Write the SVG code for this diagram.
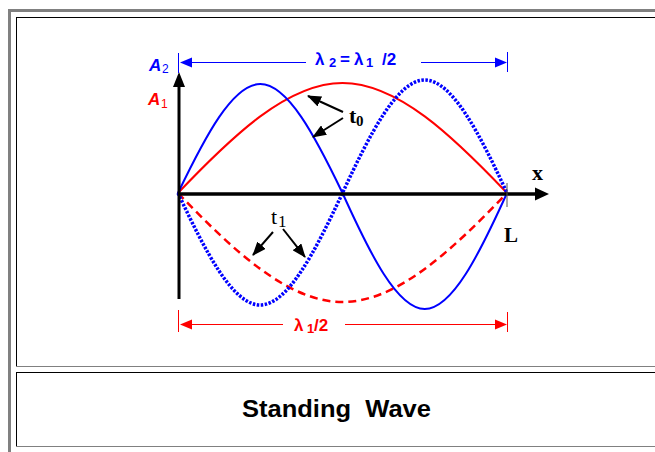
<svg xmlns="http://www.w3.org/2000/svg" width="655" height="452" viewBox="0 0 655 452">
<style>
.sans{font-family:"Liberation Sans",Arial,sans-serif;font-weight:bold}
.serif{font-family:"Liberation Serif","Times New Roman",serif}
.blue{fill:#0000ff}
.red{fill:#ff0000}
.wave{fill:none;stroke-linecap:round;stroke-linejoin:round}
.ptr{stroke:#000;stroke-width:2;fill:none}
</style>
<defs>
<marker id="ah" viewBox="0 0 14 11" refX="13" refY="5.5" markerWidth="14" markerHeight="11" markerUnits="userSpaceOnUse" orient="auto"><path d="M0,0 L14,5.5 L0,11 z" fill="#000"/></marker>
</defs>
<rect width="655" height="452" fill="#fff"/>
<g id="frame">
<rect x="8" y="9" width="660" height="3" fill="#808080"/>
<rect x="8" y="9" width="3" height="450" fill="#808080"/>
<line x1="16" y1="17.5" x2="660" y2="17.5" stroke="#000" stroke-width="1"/>
<line x1="16.5" y1="17" x2="16.5" y2="366" stroke="#000" stroke-width="1"/>
<line x1="16" y1="366.5" x2="660" y2="366.5" stroke="#808080" stroke-width="1"/>
<line x1="16" y1="372.5" x2="660" y2="372.5" stroke="#000" stroke-width="1"/>
<line x1="16.5" y1="372" x2="16.5" y2="446" stroke="#000" stroke-width="1"/>
<line x1="16" y1="446.5" x2="660" y2="446.5" stroke="#808080" stroke-width="1"/>
</g>
<g id="waves">
<path class="wave" stroke="#ff0000" stroke-width="2" d="M178,193 C232.8,135.4 287.7,83 342.5,83 C397.3,83 452.2,135.4 507,193"/>
<path class="wave" stroke="#ff0000" stroke-width="2.5" stroke-dasharray="8 5" style="stroke-linecap:butt" d="M178,193 C232.8,250.1 287.7,302 342.5,302 C397.3,302 452.2,250.1 507,193"/>
<path class="wave" stroke="#0000ff" stroke-width="2" d="M178,193 C205.4,135.9 232.8,84 260.25,84 C287.7,84 315.1,135.9 342.5,193 C369.9,253.7 397.3,309 424.75,309 C452.2,309 479.6,253.7 507,193"/>
<path class="wave" stroke="#0000ff" stroke-width="3.5" stroke-dasharray="2.5 1.5" style="stroke-linecap:butt" d="M178,193 C205.4,251.6 232.8,305 260.25,305 C287.7,305 315.1,251.6 342.5,193 C369.9,133.8 397.3,80 424.75,80 C452.2,80 479.6,133.8 507,193"/>
</g>
<g id="axes">
<line x1="179" y1="299" x2="179" y2="84" stroke="#000" stroke-width="3"/>
<polygon points="179,72 173,87 185,87" fill="#000"/>
<line x1="178" y1="194" x2="538" y2="194" stroke="#000" stroke-width="3.5"/>
<polygon points="549,194 535,187.5 535,200.5" fill="#000"/>
<line x1="507" y1="183" x2="507" y2="207" stroke="#555" stroke-width="1"/>
</g>
<g id="dim-top">
<line x1="178.5" y1="53" x2="178.5" y2="73" stroke="#0000ff" stroke-width="1"/>
<line x1="507.5" y1="52" x2="507.5" y2="72" stroke="#0000ff" stroke-width="1"/>
<line x1="190" y1="62.5" x2="306" y2="62.5" stroke="#0000ff" stroke-width="1"/>
<line x1="421" y1="62.5" x2="496" y2="62.5" stroke="#0000ff" stroke-width="1"/>
<polygon points="180,62.5 192,57.5 192,67.5" fill="#0000ff"/>
<polygon points="507,62.5 495,57.5 495,67.5" fill="#0000ff"/>
<text class="sans blue" y="65" font-size="17"><tspan x="315">λ</tspan><tspan x="329" dy="2" font-size="13">2</tspan><tspan x="340" dy="-2">=</tspan><tspan x="354">λ</tspan><tspan x="366" dy="2" font-size="13">1</tspan><tspan x="382" dy="-2">/2</tspan></text>
</g>
<g id="dim-bottom">
<line x1="178.5" y1="310" x2="178.5" y2="332" stroke="#ff0000" stroke-width="1"/>
<line x1="507.5" y1="312" x2="507.5" y2="332" stroke="#ff0000" stroke-width="1"/>
<line x1="190" y1="324.5" x2="283" y2="324.5" stroke="#ff0000" stroke-width="1"/>
<line x1="345" y1="324.5" x2="496" y2="324.5" stroke="#ff0000" stroke-width="1"/>
<polygon points="180,324.5 192,319.5 192,329.5" fill="#ff0000"/>
<polygon points="507,324.5 495,319.5 495,329.5" fill="#ff0000"/>
<text class="sans red" y="331" font-size="17"><tspan x="294">λ</tspan><tspan x="307" dy="2" font-size="13">1</tspan><tspan x="314" dy="-2">/2</tspan></text>
</g>
<g id="axis-labels">
<text class="sans blue" y="71" font-size="17" font-style="italic"><tspan x="149">A</tspan><tspan x="162" dy="2" font-size="12" font-style="normal" font-weight="normal">2</tspan></text>
<text class="sans red" y="105" font-size="17" font-style="italic"><tspan x="148">A</tspan><tspan x="161" dy="3" font-size="12" font-style="normal" font-weight="normal">1</tspan></text>
<text class="serif" x="532" y="180" font-size="22" font-weight="bold">x</text>
<text class="serif" x="504" y="242" font-size="21" font-weight="bold">L</text>
</g>
<g id="t0">
<text class="serif" y="123" font-size="22" font-weight="bold"><tspan x="349">t</tspan><tspan x="356" dy="3" font-size="15">0</tspan></text>
</g>
<g id="t1">
<text class="serif" y="224" font-size="22"><tspan x="271">t</tspan><tspan x="278" dy="3" font-size="17">1</tspan></text>
</g>
<g id="connectors">
<line class="ptr" x1="343" y1="112" x2="308" y2="96" marker-end="url(#ah)"/>
<line class="ptr" x1="343" y1="118" x2="313" y2="137" marker-end="url(#ah)"/>
<line class="ptr" x1="273" y1="232" x2="253" y2="255" marker-end="url(#ah)"/>
<line class="ptr" x1="283" y1="229" x2="305" y2="257" marker-end="url(#ah)"/>
</g>
<g id="caption">
<text class="sans" x="242" y="417" font-size="23" textLength="189" lengthAdjust="spacingAndGlyphs" style="white-space:pre">Standing  Wave</text>
</g>
</svg>
